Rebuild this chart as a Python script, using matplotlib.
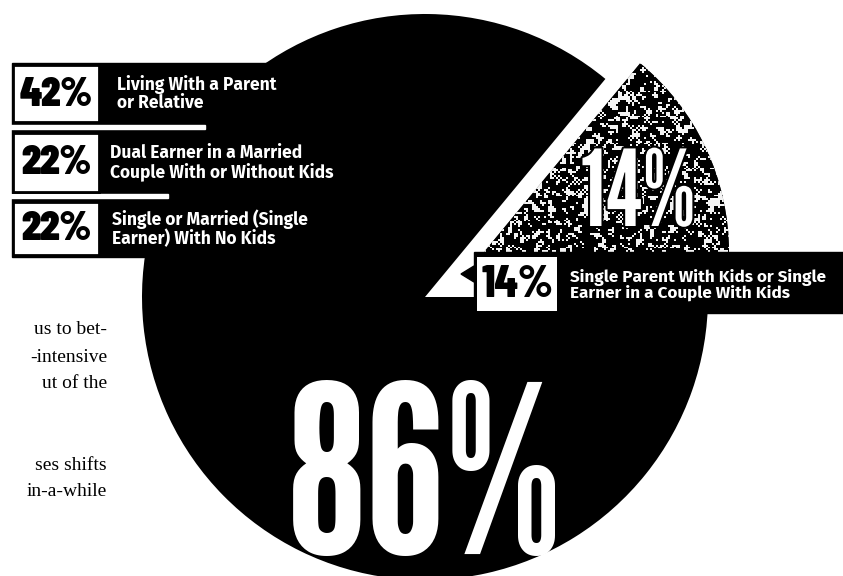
import numpy as np
import matplotlib
matplotlib.use("Agg")
import matplotlib.pyplot as plt
from matplotlib.patches import Rectangle, Polygon
from matplotlib import patheffects

# shares of the pie
shares = [14, 86]
share_labels = ["14%", "86%"]

# breakdown of the 86% slice (left) and the 14% slice (right)
left_pcts = ["42%", "22%", "22%"]
left_texts = ["Living With a Parent\nor Relative",
              "Dual Earner in a Married\nCouple With or Without Kids",
              "Single or Married (Single\nEarner) With No Kids"]
right_pct = "14%"
right_text = "Single Parent With Kids or Single\nEarner in a Couple With Kids"

# fragments of the article column
body_lines = ["us to bet-", "-intensive", "ut of the", "", "", "ses shifts", "in-a-while"]

W, H = 843, 576
BIG = ["League Gothic", "DejaVu Sans"]
COND = ["Barlow Condensed", "DejaVu Sans"]
LAB = ["Fira Sans", "DejaVu Sans"]

fig = plt.figure(figsize=(W / 100, H / 100), dpi=100)
ax = fig.add_axes([0, 0, 1, 1])

# main black pie (the 14% slice is left empty)
main, _ = ax.pie(shares, colors=["none", "black"], startangle=0, counterclock=False,
                 center=(425, 297), radius=283, frame=True,
                 wedgeprops=dict(linewidth=0))
# exploded 14% slice, a bit smaller
expl, _ = ax.pie(shares, colors=["#505050", "none"], startangle=0, counterclock=False,
                 center=(484, 252), radius=245, frame=True,
                 wedgeprops=dict(linewidth=0))

# stippled texture of the exploded slice
rng = np.random.default_rng(7)
noise = rng.random((135, 135))
blur = (noise + np.roll(noise, 1, 0) + np.roll(noise, 1, 1) + np.roll(noise, -1, 0)
        + np.roll(noise, -1, 1)) / 5
tex = (blur > 0.58).astype(float) * 0.95
im = ax.imshow(tex, cmap="gray", vmin=0, vmax=1, extent=(470, 740, 260, 0),
               interpolation="nearest", zorder=2)
im.set_clip_path(expl[0])

ax.text(638, 197, share_labels[0], color="white", fontsize=76, fontweight="bold",
        family=BIG, ha="center", va="center", zorder=4,
        path_effects=[patheffects.withStroke(linewidth=3, foreground="black")])
ax.text(425, 490, share_labels[1], color="white", fontsize=168, fontweight="bold",
        family=BIG, ha="center", va="center", zorder=4)

# left label bands
ax.add_patch(Rectangle((12, 63), 300, 194, color="black", zorder=1))
ax.add_patch(Rectangle((0, 125), 205, 4, color="white", zorder=2))
ax.add_patch(Rectangle((0, 194), 168, 4, color="white", zorder=2))
box_tops = [65, 133, 202]
box_h = [57, 59, 53]
text_x = [117, 110, 112]
for top, h, tx, pct, txt in zip(box_tops, box_h, text_x, left_pcts, left_texts):
    ax.add_patch(Rectangle((13, top), 86, h, facecolor="white", edgecolor="black",
                           linewidth=2, zorder=3))
    ax.text(56, top + h / 2 + 1, pct, color="black", fontsize=30, fontweight="black",
            family=COND, ha="center", va="center", zorder=4)
    ax.text(tx, top + h / 2, txt, color="white", fontsize=12.5, fontweight="bold",
            family=LAB, ha="left", va="center", linespacing=1.0, zorder=4)

# right label bar
ax.add_patch(Rectangle((474, 252), 400, 61, color="black", zorder=3))
ax.add_patch(Rectangle((477, 257), 80, 54, facecolor="white", edgecolor="none", zorder=3))
ax.add_patch(Polygon([(461, 274), (474, 266), (474, 282)], closed=True, color="black", zorder=3))
ax.text(517, 285, right_pct, color="black", fontsize=33, fontweight="heavy",
        family=COND, ha="center", va="center", zorder=4)
ax.text(570, 285, right_text, color="white", fontsize=12.3, fontweight="bold",
        family=LAB, ha="left", va="center", linespacing=0.85, zorder=4)

# article text on the left
for i, line in enumerate(body_lines):
    if line:
        ax.text(107, 330 + 27 * i, line, color="black", fontsize=14,
                family="Liberation Serif", ha="right", va="center", zorder=4)

ax.set_xlim(0, W)
ax.set_ylim(H, 0)
ax.set_aspect("equal")
ax.axis("off")
fig.savefig("out.png", dpi=100, facecolor="white")
